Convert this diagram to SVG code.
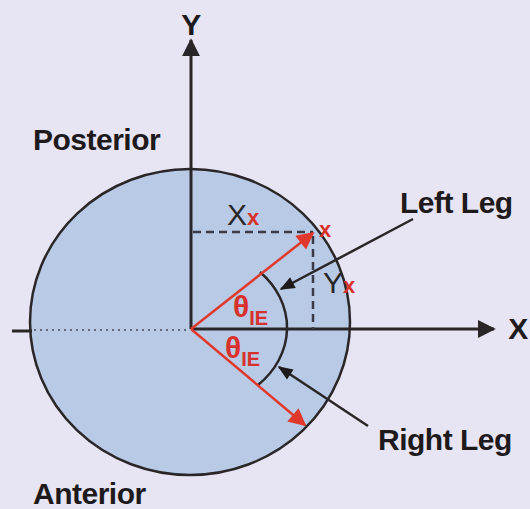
<svg xmlns="http://www.w3.org/2000/svg" width="530" height="509" viewBox="0 0 530 509">
<defs>
<style>
.lbl{font-family:"Liberation Sans",Arial,sans-serif;font-weight:bold;font-size:30px;fill:#1e1a1c;letter-spacing:-0.5px}
.var{font-family:"Liberation Sans",Arial,sans-serif;font-size:30px;fill:#2a2628}
.red{font-family:"Liberation Sans",Arial,sans-serif;font-weight:bold;fill:#d8302a}
.ax{stroke:#2a2628;stroke-width:3;fill:none}
.ln{stroke:#2a2628;stroke-width:2.5;fill:none}
.vec{stroke:#e0392c;stroke-width:2.5;fill:none}
.dash{stroke:#3a3a48;stroke-width:2.5;stroke-dasharray:8 5;fill:none}
</style>
<marker id="ah" viewBox="0 0 10 10" refX="9" refY="5" markerWidth="6" markerHeight="6" orient="auto" markerUnits="strokeWidth"><path d="M0,0 L10,5 L0,10 z" fill="#2a2628"/></marker>
<marker id="ahs" viewBox="0 0 10 10" refX="9" refY="5" markerWidth="7" markerHeight="6" orient="auto" markerUnits="strokeWidth"><path d="M0,1 L10,5 L0,9 z" fill="#1e1a1c"/></marker>
<marker id="ahr" viewBox="0 0 10 10" refX="9" refY="5" markerWidth="7.5" markerHeight="7" orient="auto" markerUnits="strokeWidth"><path d="M0,0 L10,5 L0,10 z" fill="#e0392c"/></marker>
</defs>
<rect width="530" height="509" fill="#e7e5f3"/>
<g id="disc"><ellipse cx="190" cy="322" rx="160" ry="153" fill="#b8cae6" stroke="#2a2628" stroke-width="2.5"/></g>
<g id="connectors">
<line class="ax" x1="191" y1="329" x2="191" y2="40" marker-end="url(#ah)"/>
<line class="ax" x1="191" y1="329" x2="494" y2="329" marker-end="url(#ah)"/>
<line x1="12" y1="331" x2="32" y2="331" stroke="#2a2628" stroke-width="3"/>
<line x1="34" y1="330" x2="189" y2="330" stroke="#4a4a58" stroke-width="1.5" stroke-dasharray="2 4"/>
<line class="dash" x1="193" y1="232" x2="313" y2="232"/>
<line class="dash" x1="313" y1="236" x2="313" y2="329"/>
<path class="ln" d="M260 272 A96 80 0 0 1 258 385"/>
<line class="vec" x1="191" y1="329" x2="313" y2="233" marker-end="url(#ahr)"/>
<line class="vec" x1="191" y1="329" x2="305" y2="425" marker-end="url(#ahr)"/>
<line class="ln" x1="413" y1="219" x2="281" y2="289" marker-end="url(#ahs)"/>
<line class="ln" x1="368" y1="426" x2="279" y2="367" marker-end="url(#ahs)"/>
</g>
<g id="labels">
<text class="lbl" x="191" y="35" text-anchor="middle">Y</text>
<text class="lbl" x="518" y="339" text-anchor="middle">X</text>
<text class="lbl" x="33" y="150">Posterior</text>
<text class="lbl" x="33" y="504">Anterior</text>
<text class="lbl" x="400" y="213">Left Leg</text>
<text class="lbl" x="378" y="450">Right Leg</text>
<text x="227" y="225" class="var">X<tspan class="red" font-size="22">x</tspan></text>
<text x="319" y="237" class="red" font-size="22">x</text>
<text x="323" y="293" class="var">Y<tspan class="red" font-size="22">x</tspan></text>
<text x="233" y="317" class="red" font-size="30">θ<tspan font-size="20" dy="8">IE</tspan></text>
<text x="225" y="358" class="red" font-size="30">θ<tspan font-size="20" dy="8">IE</tspan></text>
</g>
</svg>
